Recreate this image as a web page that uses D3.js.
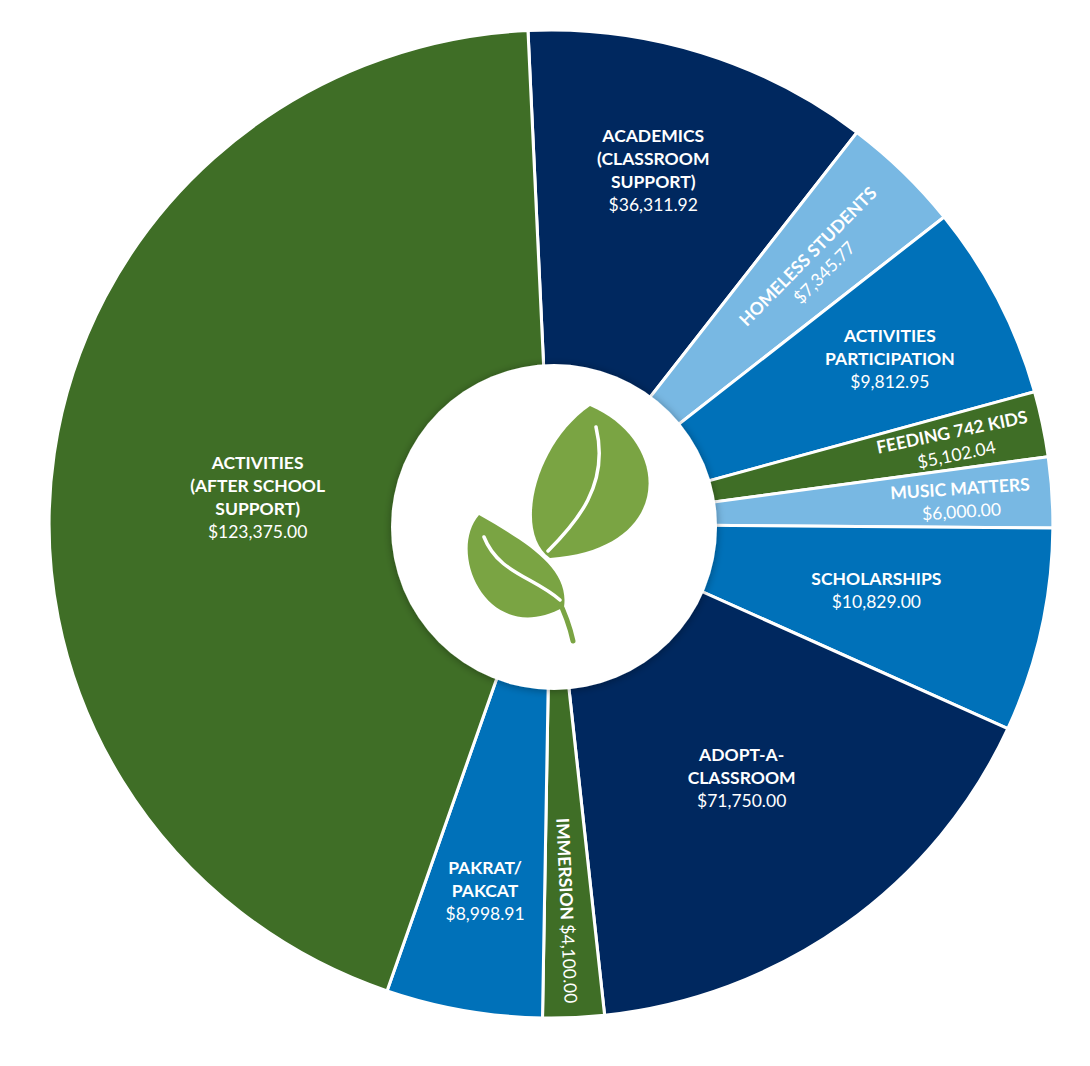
<!DOCTYPE html>
<html>
<head>
<meta charset="utf-8">
<script src="https://cdn.jsdelivr.net/npm/d3@7"></script>
<style>
  html, body { margin: 0; padding: 0; background: #fff; }
  svg { display: block; }
</style>
</head>
<body>
<div id="chart"></div>
<script>
// Categories in drawing order, clockwise from the top
const categories = [
  'Academics (Classroom Support)', 'Homeless Students', 'Activities Participation',
  'Feeding 742 Kids', 'Music Matters', 'Scholarships', 'Adopt-a-Classroom',
  'Immersion', 'PAKRAT/PAKCAT', 'Activities (After School Support)'
];
// Dollar amounts printed on the wedges
const amounts = [36311.92, 7345.77, 9812.95, 5102.04, 6000.00, 10829.00, 71750.00, 4100.00, 8998.91, 123375.00];
// Share of the circle each wedge takes in the artwork (degrees;
// the graphic does not size wedges by the dollar amounts)
const arcDegrees = [40.2, 14.0, 22.9, 7.7, 8.3, 24.0, 59.4, 7.1, 18.1, 158.3];
// Label lines (upper case as printed)
const labelLines = [
  ['ACADEMICS', '(CLASSROOM', 'SUPPORT)'],
  ['HOMELESS STUDENTS'],
  ['ACTIVITIES', 'PARTICIPATION'],
  ['FEEDING 742 KIDS'],
  ['MUSIC MATTERS'],
  ['SCHOLARSHIPS'],
  ['ADOPT-A-', 'CLASSROOM'],
  ['IMMERSION'],
  ['PAKRAT/', 'PAKCAT'],
  ['ACTIVITIES', '(AFTER SCHOOL', 'SUPPORT)']
];

const colors = {
  green: '#3f6e26', navy: '#00285f', blue: '#0071b9', light: '#78b8e3'
};
const sliceColor = ['navy', 'light', 'blue', 'green', 'light', 'blue', 'navy', 'green', 'blue', 'green'];

// label layout: radius of the text block, angle nudge (deg), rotate along the wedge?
const labelLayout = [
  { r: 368, da: -1.6 }, { r: 368, da: 0.6, rot: true }, { r: 372, da: 0.7 },
  { r: 405, da: 0.2, rot: true }, { r: 404, da: 0.3, rot: true }, { r: 327, da: -0.8 },
  { r: 316, da: -0.6 }, { r: 387, da: 0.3, rot: true, inline: true }, { r: 373, da: 0 },
  { r: 290, da: -2.9 }
];

const width = 1090, height = 1066;
const cx = 551, cy = 524, R = 494, sx = 1.016;
const deg = Math.PI / 180;
const fmt = d3.format('$,.2f');

const svg = d3.select('#chart').append('svg')
  .attr('width', width).attr('height', height);

const defs = svg.append('defs');
const shadow = defs.append('filter').attr('id', 'holeShadow')
  .attr('x', '-20%').attr('y', '-20%').attr('width', '140%').attr('height', '140%');
shadow.append('feDropShadow')
  .attr('dx', 0).attr('dy', 1).attr('stdDeviation', 4)
  .attr('flood-color', 'rgba(0,0,0,0.35)');

const data = categories.map((c, i) => ({
  name: c, amount: amounts[i], share: arcDegrees[i],
  color: colors[sliceColor[i]], lines: labelLines[i], layout: labelLayout[i]
}));

const startA = -2.63 * deg;
const pie = d3.pie().sort(null).value(d => d.share)
  .startAngle(startA).endAngle(startA + 2 * Math.PI);
const arcs = pie(data);
const arc = d3.arc().innerRadius(0).outerRadius(R);

const pieG = svg.append('g')
  .attr('transform', `translate(${cx},${cy}) scale(${sx},1)`);

pieG.selectAll('path.slice')
  .data(arcs)
  .join('path')
  .attr('class', 'slice')
  .attr('d', arc)
  .attr('fill', d => d.data.color)
  .attr('stroke', '#fff')
  .attr('stroke-width', 3)
  .attr('stroke-linejoin', 'round');

// white hub with the leaf
const hub = svg.append('g').attr('transform', 'translate(554,527)');
hub.append('circle').attr('r', 163).attr('fill', '#fff')
  .style('filter', 'url(#holeShadow)');

const leafGreen = '#7aa443';
hub.append('path')
  .attr('d', 'M-4,31 C122,22 118,-86 36,-121 C-20,-82 -40,6 -4,31 Z')
  .attr('fill', leafGreen);
hub.append('path')
  .attr('d', 'M10,80 C16,40 -30,14 -75,-12 C-108,26 -66,122 10,80 Z')
  .attr('fill', leafGreen);
hub.append('path')
  .attr('d', 'M3,70 C11,86 16,100 19,114')
  .attr('fill', 'none').attr('stroke', leafGreen)
  .attr('stroke-width', 5).attr('stroke-linecap', 'round');
hub.append('path')
  .attr('d', 'M-6,24 C22,-4 56,-42 42,-100')
  .attr('fill', 'none').attr('stroke', '#fff')
  .attr('stroke-width', 3.5).attr('stroke-linecap', 'round');
hub.append('path')
  .attr('d', 'M-70,10 C-56,46 -20,50 6,73')
  .attr('fill', 'none').attr('stroke', '#fff')
  .attr('stroke-width', 3.5).attr('stroke-linecap', 'round');

// labels
const fontFamily = 'Lato, "Open Sans", "DejaVu Sans", sans-serif';
const lineH = 23;

const labels = svg.append('g').attr('class', 'labels')
  .selectAll('g')
  .data(arcs)
  .join('g')
  .attr('transform', d => {
    const L = d.data.layout;
    const mid = (d.startAngle + d.endAngle) / 2;
    const a = mid + L.da * deg;
    const x = cx + Math.sin(a) * L.r * sx;
    const y = cy - Math.cos(a) * L.r;
    const rot = L.rot ? mid / deg - 90 : 0;
    return `translate(${x},${y}) rotate(${rot})`;
  });

labels.each(function (d) {
  const g = d3.select(this);
  const L = d.data.layout;
  const t = g.append('text')
    .attr('text-anchor', 'middle')
    .attr('fill', '#fff')
    .style('font-family', fontFamily)
    .style('font-size', '17.5px');
  if (L.inline) {
    t.attr('dy', '0.35em');
    t.append('tspan').style('font-weight', 700).text(d.data.lines.join(' ') + ' ');
    t.append('tspan').style('font-weight', 400).text(fmt(d.data.amount));
    return;
  }
  const rows = d.data.lines.map(s => ({ s, bold: true }))
    .concat([{ s: fmt(d.data.amount), bold: false }]);
  const n = rows.length;
  rows.forEach((row, i) => {
    t.append('tspan')
      .attr('x', 0)
      .attr('y', (i - (n - 1) / 2) * lineH)
      .attr('dy', '0.35em')
      .style('font-weight', row.bold ? 700 : 400)
      .text(row.s);
  });
});
</script>
</body>
</html>
